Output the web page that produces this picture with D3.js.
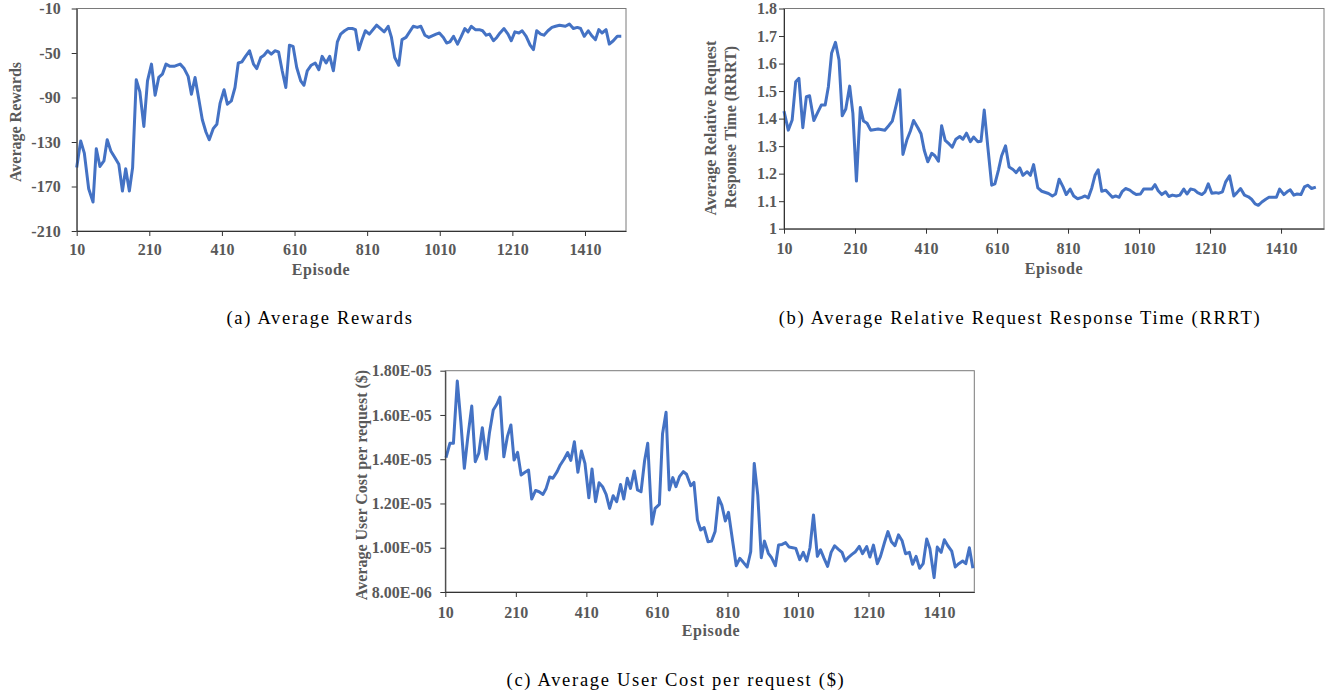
<!DOCTYPE html>
<html>
<head>
<meta charset="utf-8">
<script src="https://cdn.jsdelivr.net/npm/d3@7"></script>
<style>
  body { margin: 0; background: #fff; }
  svg text { font-family: "Liberation Serif", "Times New Roman", serif; }
</style>
</head>
<body>
<svg id="chart" width="1331" height="695"></svg>
<script>
// ---- data ----
var episodeTicks = [10, 210, 410, 610, 810, 1010, 1210, 1410];

// (a) average rewards
var rewardEpisodes = [10, 21, 31, 43, 55, 64, 74, 85, 94, 104, 115, 126, 136, 145, 155, 164, 174, 184, 195, 205,
  216, 226, 236, 246, 256, 267, 278, 295, 306, 317, 326, 336, 346, 356, 366, 375, 386, 396, 405, 416,
  425, 436, 446, 455, 465, 475, 486, 497, 506, 517, 526, 536, 546, 556, 566, 576, 586, 596, 606, 616,
  627, 636, 645, 656, 667, 677, 686, 697, 707, 717, 728, 737, 748, 758, 769, 778, 787, 796, 805, 816,
  836, 857, 868, 877, 886, 897, 906, 917, 937, 948, 958, 969, 980, 1000, 1009, 1020, 1029, 1038, 1048, 1059,
  1068, 1079, 1088, 1097, 1108, 1119, 1128, 1138, 1147, 1158, 1167, 1176, 1187, 1198, 1207, 1217, 1228, 1237, 1248, 1259,
  1268, 1277, 1288, 1297, 1308, 1319, 1329, 1340, 1356, 1367, 1378, 1389, 1398, 1408, 1419, 1430, 1439, 1448, 1457, 1468,
  1477, 1488, 1499, 1510];
var rewards = [-153, -129, -140, -172, -184, -136, -152, -147, -128, -138, -144, -150, -174, -154, -174, -153, -74, -85, -116, -75,
  -60, -88, -72, -69, -60, -62, -62, -60, -64, -71, -87, -72, -91, -110, -121, -128, -118, -114, -95, -83,
  -96, -93, -81, -59, -58, -53, -48, -60, -64, -54, -52, -48, -51, -48, -49, -66, -81, -43, -44, -63,
  -75, -79, -66, -61, -59, -65, -53, -59, -53, -66, -40, -33, -30, -28, -28, -29, -47, -38, -30, -33,
  -25, -31, -26, -36, -54, -61, -38, -36, -26, -27, -26, -34, -36, -33, -32, -36, -41, -40, -35, -42,
  -36, -28, -31, -26, -29, -29, -30, -34, -33, -39, -36, -32, -28, -33, -39, -31, -32, -30, -35, -43,
  -47, -30, -33, -34, -30, -27, -26, -25, -26, -24, -28, -27, -28, -35, -30, -35, -38, -29, -32, -29,
  -42, -39, -35, -35];
var rewardTicks = [-210, -170, -130, -90, -50, -10];

// (b) average relative request response time
var rrrtEpisodes = [10, 22, 33, 43, 52, 63, 73, 82, 94, 105, 115, 126, 135, 144, 155, 165, 174, 184, 195, 204,
  214, 225, 234, 244, 254, 275, 294, 306, 315, 326, 336, 345, 356, 366, 375, 387, 396, 405, 415, 426,
  435, 445, 454, 464, 475, 484, 494, 505, 514, 524, 535, 544, 556, 565, 574, 584, 595, 604, 614, 623,
  634, 644, 655, 664, 674, 683, 695, 704, 713, 725, 736, 755, 766, 775, 785, 796, 805, 816, 826, 837,
  849, 858, 867, 877, 886, 895, 905, 916, 925, 935, 944, 954, 963, 972, 984, 993, 1002, 1014, 1023, 1034,
  1046, 1055, 1064, 1074, 1085, 1094, 1104, 1115, 1125, 1136, 1145, 1155, 1166, 1175, 1187, 1196, 1205, 1215, 1226, 1235,
  1245, 1254, 1265, 1277, 1286, 1296, 1307, 1318, 1327, 1337, 1346, 1356, 1367, 1376, 1397, 1406, 1418, 1427, 1436, 1446,
  1455, 1466, 1476, 1485, 1496, 1508];
var rrrt = [1.427, 1.358, 1.395, 1.534, 1.546, 1.367, 1.480, 1.483, 1.393, 1.423, 1.449, 1.449, 1.516, 1.637, 1.677, 1.613, 1.410, 1.435, 1.518, 1.419,
  1.173, 1.440, 1.391, 1.383, 1.358, 1.362, 1.358, 1.376, 1.391, 1.449, 1.505, 1.270, 1.322, 1.355, 1.393, 1.367, 1.345, 1.285, 1.243, 1.274,
  1.265, 1.245, 1.374, 1.321, 1.308, 1.296, 1.325, 1.335, 1.325, 1.347, 1.316, 1.333, 1.316, 1.318, 1.431, 1.298, 1.158, 1.163, 1.213, 1.265,
  1.301, 1.224, 1.215, 1.204, 1.221, 1.194, 1.207, 1.194, 1.233, 1.148, 1.136, 1.128, 1.119, 1.126, 1.180, 1.152, 1.124, 1.144, 1.119, 1.109,
  1.114, 1.119, 1.112, 1.148, 1.194, 1.214, 1.136, 1.140, 1.128, 1.114, 1.119, 1.114, 1.136, 1.146, 1.140, 1.131, 1.124, 1.126, 1.144, 1.144,
  1.144, 1.160, 1.138, 1.124, 1.134, 1.117, 1.122, 1.119, 1.122, 1.144, 1.126, 1.144, 1.141, 1.131, 1.124, 1.134, 1.163, 1.129, 1.131, 1.129,
  1.134, 1.170, 1.192, 1.119, 1.131, 1.146, 1.122, 1.116, 1.107, 1.090, 1.085, 1.097, 1.107, 1.114, 1.114, 1.144, 1.124, 1.134, 1.141, 1.122,
  1.126, 1.124, 1.152, 1.158, 1.146, 1.151];
var rrrtTicks = [1, 1.1, 1.2, 1.3, 1.4, 1.5, 1.6, 1.7, 1.8];
var rrrtTickLabels = ["1", "1.1", "1.2", "1.3", "1.4", "1.5", "1.6", "1.7", "1.8"];

// (c) average user cost per request, in units of 1e-5 $
var costEpisodes = [12, 23, 33, 44, 54, 64, 74, 85, 95, 105, 115, 126, 135, 146, 156, 165, 176, 186, 196, 205,
  215, 225, 236, 246, 255, 266, 276, 287, 296, 306, 315, 327, 336, 347, 357, 366, 376, 386, 396, 406,
  417, 426, 436, 446, 456, 466, 476, 486, 496, 507, 516, 526, 535, 546, 555, 565, 575, 584, 596, 605,
  617, 626, 636, 645, 655, 664, 674, 685, 694, 706, 715, 725, 734, 744, 755, 765, 775, 785, 794, 804,
  813, 825, 835, 845, 855, 866, 876, 886, 896, 906, 915, 926, 935, 946, 955, 965, 975, 985, 995, 1004,
  1015, 1025, 1035, 1044, 1054, 1065, 1074, 1084, 1094, 1104, 1114, 1124, 1135, 1144, 1154, 1163, 1173, 1184, 1193, 1205,
  1214, 1224, 1235, 1244, 1256, 1265, 1275, 1285, 1295, 1305, 1315, 1326, 1335, 1345, 1355, 1365, 1375, 1384, 1396, 1405,
  1416, 1425, 1435, 1446, 1456, 1466, 1477, 1486, 1496, 1506];
var cost = [1.407, 1.472, 1.472, 1.753, 1.570, 1.359, 1.502, 1.640, 1.389, 1.427, 1.542, 1.401, 1.517, 1.622, 1.648, 1.681, 1.411, 1.502, 1.555, 1.396,
  1.431, 1.329, 1.341, 1.351, 1.220, 1.259, 1.253, 1.241, 1.268, 1.320, 1.314, 1.344, 1.374, 1.401, 1.430, 1.395, 1.479, 1.341, 1.437, 1.381,
  1.226, 1.356, 1.208, 1.294, 1.276, 1.241, 1.178, 1.235, 1.208, 1.286, 1.220, 1.314, 1.268, 1.347, 1.261, 1.253, 1.392, 1.472, 1.106, 1.178,
  1.196, 1.515, 1.612, 1.261, 1.317, 1.276, 1.321, 1.344, 1.332, 1.280, 1.295, 1.125, 1.080, 1.091, 1.027, 1.030, 1.073, 1.226, 1.193, 1.121,
  1.160, 1.027, 0.919, 0.952, 0.934, 0.913, 0.982, 1.381, 1.238, 0.955, 1.030, 0.975, 0.955, 0.919, 1.012, 1.015, 1.023, 1.003, 1.000, 0.997,
  0.946, 0.979, 0.940, 1.000, 1.148, 0.961, 0.991, 0.952, 0.916, 0.979, 1.009, 0.994, 0.979, 0.940, 0.958, 0.970, 0.982, 1.006, 0.973, 1.005,
  0.958, 1.012, 0.928, 0.961, 1.027, 1.073, 1.027, 1.009, 1.058, 1.033, 0.973, 0.979, 0.925, 0.961, 0.907, 0.928, 1.039, 0.997, 0.865, 1.003,
  0.979, 1.036, 1.009, 0.985, 0.913, 0.928, 0.940, 0.928, 1.000, 0.907];
var costTicks = [0.8, 1.0, 1.2, 1.4, 1.6, 1.8];
var costTickLabels = ["8.00E-06", "1.00E-05", "1.20E-05", "1.40E-05", "1.60E-05", "1.80E-05"];

var lineColor = "#4472c4";
var textColor = "#595959";

var svg = d3.select("#chart");

function drawPanel(o) {
  var g = svg.append("g");
  var x = d3.scaleLinear().domain(o.xDomain).range([o.left, o.right]);
  var y = d3.scaleLinear().domain(o.yDomain).range([o.bottom, o.top]);

  // plot area border
  g.append("rect")
    .attr("x", o.left).attr("y", o.top)
    .attr("width", o.right - o.left).attr("height", o.bottom - o.top)
    .attr("fill", "none").attr("stroke", "#7a7a7a").attr("stroke-width", 1);

  var line = d3.line()
    .x(function(d){ return x(d[0]); })
    .y(function(d){ return y(d[1]); });

  g.append("path")
    .datum(d3.zip(o.xs, o.ys))
    .attr("d", line)
    .attr("fill", "none")
    .attr("stroke", lineColor)
    .attr("stroke-width", 3)
    .attr("stroke-linejoin", "round");

  // axes
  var xAxis = g.append("g")
    .attr("transform", "translate(0," + o.bottom + ")")
    .call(d3.axisBottom(x).tickValues(episodeTicks).tickSize(5).tickSizeOuter(0).tickFormat(d3.format("d")));
  xAxis.selectAll("text").attr("y", o.xLabelBase).attr("dy", null);

  var yAxis = g.append("g")
    .attr("transform", "translate(" + o.left + ",0)")
    .call(d3.axisLeft(y).tickValues(o.yTicks).tickSize(5).tickSizeOuter(0).tickPadding(o.yPad)
      .tickFormat(function(d, i){ return o.yLabels[i]; }));

  [xAxis, yAxis].forEach(function(a){
    a.select(".domain").attr("stroke", "#333");
    a.selectAll(".tick line").attr("stroke", "#333");
    a.selectAll("text")
      .attr("fill", textColor)
      .style("font-size", "16px")
      .style("font-weight", "bold");
  });

  // axis titles
  g.append("text")
    .attr("x", o.xTitle[0]).attr("y", o.xTitle[1])
    .attr("text-anchor", "middle")
    .attr("fill", textColor)
    .style("font-size", "16px").style("font-weight", "bold")
    .style("letter-spacing", "0.6px")
    .text("Episode");

  o.yTitle.forEach(function(t){
    g.append("text")
      .attr("transform", "translate(" + t[0] + "," + t[1] + ") rotate(-90)")
      .attr("text-anchor", "middle")
      .attr("dominant-baseline", "central")
      .attr("fill", textColor)
      .style("font-size", "16px").style("font-weight", "bold")
      .text(t[2]);
  });

  // caption
  g.append("text")
    .attr("x", o.caption[0]).attr("y", o.caption[1])
    .attr("text-anchor", "middle")
    .attr("fill", "#000")
    .style("font-size", "18.5px")
    .style("letter-spacing", "1.7px")
    .text(o.caption[2]);
}

drawPanel({
  xs: rewardEpisodes, ys: rewards,
  xDomain: [10, 1523], yDomain: [-210, -10],
  left: 76.7, right: 626, top: 8.5, bottom: 231,
  yTicks: rewardTicks, yLabels: rewardTicks.map(String), yPad: 11,
  xLabelBase: 24,
  xTitle: [321, 275],
  yTitle: [[15, 122, "Average Rewards"]],
  caption: [320, 324, "(a) Average Rewards"]
});

drawPanel({
  xs: rrrtEpisodes, ys: rrrt,
  xDomain: [10, 1531], yDomain: [1, 1.8],
  left: 784, right: 1324, top: 8.5, bottom: 228.7,
  yTicks: rrrtTicks, yLabels: rrrtTickLabels, yPad: 2,
  xLabelBase: 25,
  xTitle: [1054, 274],
  yTitle: [[710, 128, "Average Relative Request"], [730, 127, "Response Time (RRRT)"]],
  caption: [1020, 324, "(b) Average Relative Request Response Time (RRRT)"]
});

drawPanel({
  xs: costEpisodes, ys: cost,
  xDomain: [10, 1510], yDomain: [0.8, 1.8],
  left: 445.3, right: 974.3, top: 370.7, bottom: 592,
  yTicks: costTicks, yLabels: costTickLabels, yPad: 8.6,
  xLabelBase: 26,
  xTitle: [711, 636],
  yTitle: [[361, 485, "Average User Cost per request ($)"]],
  caption: [676, 686, "(c) Average User Cost per request ($)"]
});
</script>
</body>
</html>
